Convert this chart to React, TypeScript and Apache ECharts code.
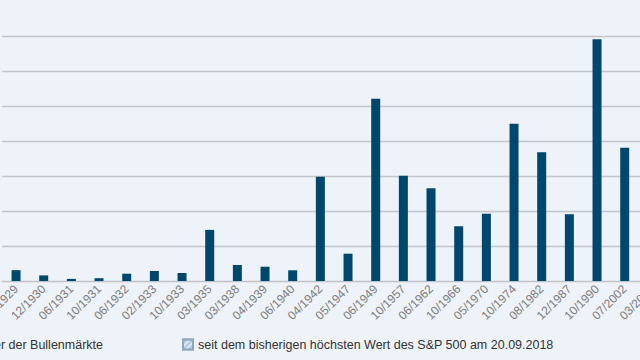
import React, { useEffect, useRef } from "react";
import * as echarts from "echarts";

const categories = [
  "11/1929", "12/1930", "06/1931", "10/1931", "06/1932", "02/1933", "10/1933",
  "03/1935", "03/1938", "04/1939", "06/1940", "04/1942", "05/1947", "06/1949",
  "10/1957", "06/1962", "10/1966", "05/1970", "10/1974", "08/1982", "12/1987",
  "10/1990", "07/2002", "03/2009",
];

// Duration of each bull market in days
const durationDays = [
  155, 80, 30, 40, 104, 143, 114,
  730, 229, 204, 153, 1490, 390, 2605,
  1505, 1324, 782, 961, 2245, 1838, 954,
  3452, 1902, 3400,
];

// Portion since the previous high of the S&P 500 on 20.09.2018 (only the current bull market)
const sinceHighDays: (number | string)[] = [
  "-", "-", "-", "-", "-", "-", "-",
  "-", "-", "-", "-", "-", "-", "-",
  "-", "-", "-", "-", "-", "-", "-",
  "-", "-", 90,
];

const seriesNames = [
  "Dauer der Bullenmärkte",
  "seit dem bisherigen höchsten Wert des S&P 500 am 20.09.2018",
];

export default function App() {
  const ref = useRef<HTMLDivElement>(null);

  useEffect(() => {
    document.body.style.margin = "0";
    document.body.style.overflow = "hidden";
    if (!ref.current) return;
    const chart = echarts.init(ref.current, null, { renderer: "svg" });
    chart.setOption({
      animation: false,
      backgroundColor: "#EEF2F9",
      textStyle: { fontFamily: "Arial, 'Liberation Sans', sans-serif" },
      grid: { left: 42.2, right: 33.8, top: 36, bottom: 79, containLabel: false },
      legend: [
        {
          data: [seriesNames[0]],
          right: 592,
          top: 333,
          icon: "rect",
          itemWidth: 10,
          itemHeight: 10,
          textStyle: { fontSize: 12.5, color: "#333333" },
        },
        {
          data: [seriesNames[1]],
          left: 217,
          top: 333,
          icon: "rect",
          itemWidth: 10,
          itemHeight: 10,
          textStyle: { fontSize: 12.5, color: "#333333" },
        },
      ],
      xAxis: {
        type: "category",
        data: categories,
        axisTick: { show: false },
        axisLine: { lineStyle: { color: "#BFC3C8", width: 1 } },
        axisLabel: {
          rotate: 45,
          interval: 0,
          color: "#7D7D7D",
          fontSize: 12,
          margin: 6,
        },
      },
      yAxis: {
        type: "value",
        min: 0,
        max: 3500,
        interval: 500,
        axisLine: { show: false },
        axisTick: { show: false },
        axisLabel: { show: false },
        splitLine: { lineStyle: { color: "#C2C5CA", width: 1.3 } },
      },
      series: [
        {
          name: seriesNames[0],
          type: "bar",
          stack: "total",
          data: durationDays,
          barWidth: 9,
          itemStyle: { color: "#00476D" },
        },
        {
          name: seriesNames[1],
          type: "bar",
          stack: "total",
          data: sinceHighDays,
          barWidth: 9,
          itemStyle: {
            color: "#B3CADF",
            borderColor: "#8EA8C0",
            borderWidth: 1,
            decal: {
              symbol: "rect",
              color: "rgba(255,255,255,0.55)",
              dashArrayX: [1, 0],
              dashArrayY: [2, 2],
              rotation: -Math.PI / 4,
            },
          },
        },
      ],
    });
    return () => chart.dispose();
  }, []);

  return (
    <div
      style={{
        position: "fixed",
        left: 0,
        top: 0,
        width: 640,
        height: 360,
        overflow: "hidden",
        background: "#EEF2F9",
      }}
    >
      <div
        ref={ref}
        style={{ position: "absolute", left: -40, top: 0, width: 740, height: 360 }}
      />
    </div>
  );
}
